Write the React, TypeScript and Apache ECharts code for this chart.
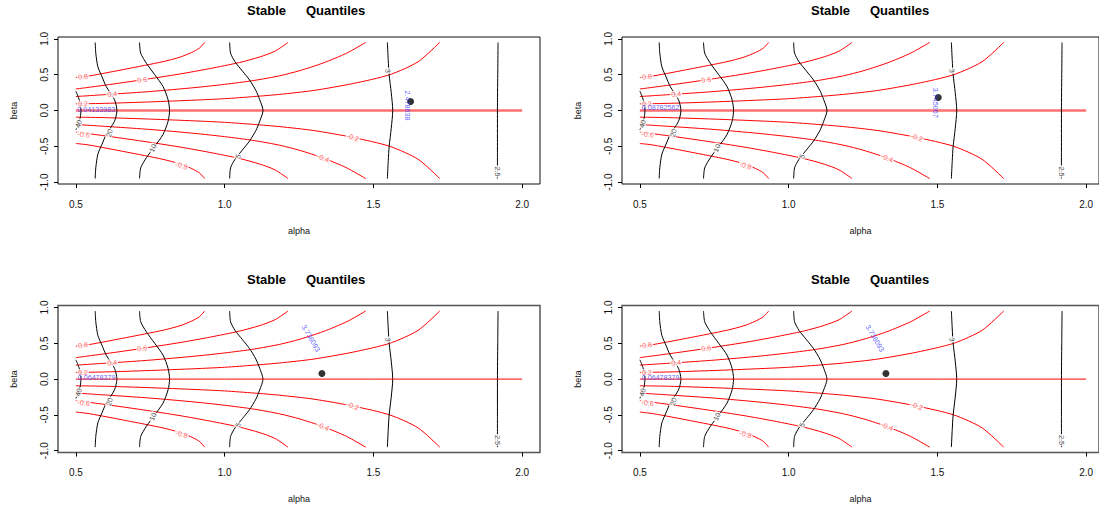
import React, { useEffect, useRef } from "react";
import * as echarts from "echarts";

const FONT = "'Liberation Sans', Arial, Helvetica, sans-serif";

// axes
const ALPHA_TICKS = [0.5, 1.0, 1.5, 2.0];
const BETA_TICKS = [-1.0, -0.5, 0.0, 0.5, 1.0];

// v_beta contours (red), points are [alpha, beta]
const VB_P08 = [[0.5, 0.46], [0.546, 0.483], [0.67, 0.58], [0.793, 0.682], [0.85, 0.745], [0.888, 0.808], [0.915, 0.87], [0.933, 0.95]];
const VB_P06 = [[0.5, 0.3], [0.6, 0.355], [0.723, 0.428], [0.85, 0.51], [0.95, 0.585], [1.05, 0.67], [1.12, 0.75], [1.17, 0.83], [1.213, 0.95]];
const VB_P04 = [[0.5, 0.195], [0.622, 0.228], [0.75, 0.265], [0.9, 0.32], [1.0, 0.365], [1.1, 0.42], [1.185, 0.485], [1.253, 0.557], [1.331, 0.663], [1.41, 0.8], [1.474, 0.95]];
const VB_P02 = [[0.5, 0.093], [0.6, 0.1], [0.75, 0.12], [0.9, 0.145], [1.0, 0.165], [1.1, 0.195], [1.185, 0.225], [1.3, 0.28], [1.431, 0.376], [1.555, 0.5], [1.65, 0.68], [1.723, 0.95]];
const VB_Z00 = [[0.5, 0.0], [1.0, 0.0], [1.5, 0.0], [2.0, 0.0]];
const VB_M02 = [[0.5, -0.093], [0.6, -0.1], [0.75, -0.12], [0.9, -0.145], [1.0, -0.165], [1.1, -0.195], [1.185, -0.225], [1.3, -0.28], [1.431, -0.376], [1.555, -0.5], [1.65, -0.68], [1.723, -0.95]];
const VB_M04 = [[0.5, -0.195], [0.622, -0.228], [0.75, -0.265], [0.9, -0.32], [1.0, -0.365], [1.1, -0.42], [1.185, -0.485], [1.253, -0.557], [1.331, -0.663], [1.41, -0.8], [1.474, -0.95]];
const VB_M06 = [[0.5, -0.3], [0.6, -0.355], [0.723, -0.428], [0.85, -0.51], [0.95, -0.585], [1.05, -0.67], [1.12, -0.75], [1.17, -0.83], [1.213, -0.95]];
const VB_M08 = [[0.5, -0.46], [0.546, -0.483], [0.67, -0.58], [0.793, -0.682], [0.85, -0.745], [0.888, -0.808], [0.915, -0.87], [0.933, -0.95]];

// v_alpha contours (black)
const VA_40 = [[0.5, 0.27], [0.509, 0.18], [0.515, 0.09], [0.517, 0.0], [0.515, -0.09], [0.509, -0.18], [0.5, -0.27]];
const VA_20 = [[0.565, 0.95], [0.567, 0.8], [0.574, 0.61], [0.588, 0.47], [0.602, 0.335], [0.63, 0.15], [0.638, 0.0], [0.63, -0.15], [0.602, -0.335], [0.588, -0.47], [0.574, -0.61], [0.567, -0.8], [0.565, -0.95]];
const VA_10 = [[0.714, 0.95], [0.718, 0.8], [0.737, 0.66], [0.765, 0.5], [0.793, 0.335], [0.81, 0.15], [0.815, 0.0], [0.81, -0.15], [0.793, -0.335], [0.765, -0.5], [0.737, -0.66], [0.718, -0.8], [0.714, -0.95]];
const VA_5 = [[1.017, 0.95], [1.02, 0.8], [1.035, 0.68], [1.06, 0.55], [1.084, 0.425], [1.105, 0.28], [1.118, 0.15], [1.129, 0.0], [1.118, -0.15], [1.105, -0.28], [1.084, -0.425], [1.06, -0.55], [1.035, -0.68], [1.02, -0.8], [1.017, -0.95]];
const VA_3 = [[1.547, 0.95], [1.55, 0.7], [1.553, 0.5], [1.56, 0.25], [1.565, 0.0], [1.56, -0.25], [1.553, -0.5], [1.55, -0.7], [1.547, -0.95]];
const VA_25 = [[1.919, 0.95], [1.918, 0.5], [1.917, 0.0], [1.917, -0.5], [1.917, -0.95]];

const RED_LINES = [VB_P08, VB_P06, VB_P04, VB_P02, VB_M02, VB_M04, VB_M06, VB_M08];
const BLACK_LINES = [VA_40, VA_20, VA_10, VA_5, VA_3, VA_25];

// contour labels: text, [alpha, beta] anchor, rotation (deg)
const RED_LABEL_TEXT = ["0.8", "0.6", "0.4", "0.2", "-0.2", "-0.4", "-0.6", "-0.8"];
const RED_LABEL_AT = [[0.524, 0.474], [0.723, 0.428], [0.622, 0.228], [0.524, 0.093], [1.431, -0.376], [1.331, -0.663], [0.526, -0.334], [0.855, -0.77]];
const RED_LABEL_ROT = [8, 8, 5, 3, -20, -22, -8, -15];
const BLACK_LABEL_TEXT = ["40", "20", "10", "5", "3", "2.5"];
const BLACK_LABEL_AT = [[0.509, -0.185], [0.613, -0.315], [0.759, -0.524], [1.045, -0.64], [1.549, 0.553], [1.916, -0.85]];
const BLACK_LABEL_ROT = [75, 73, 66, 64, -85, -90];

// observed points and their labels, one per panel
const POINTS = [[1.625, 0.125], [1.503, 0.181], [1.327, 0.078], [1.327, 0.078]];
const LEFT_TEXT = ["0.04133983", "0.08782562", "0.06478379", "0.06478379"];
const LEFT_AT = [[0.505, 0.02], [0.506, 0.038], [0.506, 0.028], [0.506, 0.028]];
const RIGHT_TEXT = ["2.478638", "3.745067", "3.736093", "3.736093"];
const RIGHT_AT = [[1.615, 0.07], [1.495, 0.107], [1.29, 0.57], [1.29, 0.57]];
const RIGHT_ROT = [-90, -90, -59.5, -59.5];

// right-hand panels are cut by the page edge
const PANELS = [
  { left: 58, top: 37, width: 482, xMax: 2.06, thick: true },
  { left: 622, top: 37, width: 477, xMax: 2.0432, thick: true },
  { left: 58, top: 305.6, width: 482, xMax: 2.06, thick: false },
  { left: 622, top: 305.6, width: 477, xMax: 2.0432, thick: false },
];

function buildOption() {
  const grid: any[] = [];
  const xAxis: any[] = [];
  const yAxis: any[] = [];
  const series: any[] = [];
  const title: any[] = [];

  PANELS.forEach((p, i) => {
    grid.push({
      left: p.left,
      top: p.top,
      width: p.width,
      height: 147,
      show: true,
      borderColor: i < 2 ? "#111" : "#555",
      borderWidth: i < 2 ? 1 : 1.5,
      backgroundColor: "transparent",
    });
    xAxis.push({
      gridIndex: i,
      type: "value",
      min: 0.44,
      max: p.xMax,
      axisLine: { show: false, onZero: false },
      splitLine: { show: false },
      axisTick: { show: true, customValues: ALPHA_TICKS, length: 4, lineStyle: { color: "#000" } },
      axisLabel: {
        customValues: ALPHA_TICKS,
        formatter: (v: number) => v.toFixed(1),
        margin: 15,
        fontSize: 10,
        color: "#111",
        fontFamily: FONT,
      },
      name: "alpha",
      nameLocation: "middle",
      nameGap: 42,
      nameTextStyle: { fontSize: 9, color: "#111", fontFamily: FONT },
    });
    yAxis.push({
      gridIndex: i,
      type: "value",
      min: -1.026,
      max: 1.026,
      axisLine: { show: false, onZero: false },
      splitLine: { show: false },
      axisTick: { show: true, customValues: BETA_TICKS, length: 4, lineStyle: { color: "#000" } },
      axisLabel: {
        customValues: BETA_TICKS,
        formatter: (v: number) => v.toFixed(1),
        rotate: 90,
        margin: 9,
        fontSize: 10,
        color: "#111",
        fontFamily: FONT,
      },
      name: "beta",
      nameLocation: "middle",
      nameGap: 40,
      nameRotate: 90,
      nameTextStyle: { fontSize: 9, color: "#111", fontFamily: FONT },
    });

    const base = { xAxisIndex: i, yAxisIndex: i, silent: true, animation: false, emphasis: { disabled: true } };
    RED_LINES.forEach((d) => {
      series.push({ ...base, type: "line", data: d, showSymbol: false, symbol: "none", smooth: 0.25, itemStyle: { color: "#ff0000" }, lineStyle: { color: "#ff0000", width: 1 }, z: 2 });
    });
    BLACK_LINES.forEach((d) => {
      series.push({ ...base, type: "line", data: d, showSymbol: false, symbol: "none", smooth: 0.25, itemStyle: { color: "#000" }, lineStyle: { color: "#000", width: 1 }, z: 3 });
    });
    const zeroColor = p.thick ? "#ff7070" : "#ff0000";
    series.push({
      ...base,
      type: "line",
      data: VB_Z00,
      showSymbol: false,
      symbol: "none",
      itemStyle: { color: zeroColor },
      lineStyle: { color: zeroColor, width: p.thick ? 2.5 : 1 },
      z: p.thick ? 2 : 4,
    });
    // contour labels
    series.push({
      ...base,
      type: "scatter",
      symbolSize: 1,
      itemStyle: { color: "rgba(0,0,0,0)" },
      z: 5,
      data: RED_LABEL_AT.map((v, k) => ({
        value: v,
        label: { formatter: RED_LABEL_TEXT[k], rotate: RED_LABEL_ROT[k], color: "#ff4040" },
      })).concat(
        BLACK_LABEL_AT.map((v, k) => ({
          value: v,
          label: { formatter: BLACK_LABEL_TEXT[k], rotate: BLACK_LABEL_ROT[k], color: "#222" },
        }))
      ),
      label: {
        show: true,
        position: "inside",
        fontSize: 7.2,
        fontFamily: FONT,
        backgroundColor: "#fff",
        padding: [0, 1],
      },
    });
    // observed point
    series.push({
      ...base,
      type: "scatter",
      symbol: "circle",
      symbolSize: 7,
      itemStyle: { color: "#000" },
      z: 6,
      data: [POINTS[i]],
    });
    // blue labels
    series.push({
      ...base,
      type: "scatter",
      symbolSize: 1,
      itemStyle: { color: "rgba(0,0,0,0)" },
      z: 7,
      data: [
        { value: LEFT_AT[i], label: { formatter: LEFT_TEXT[i], align: "left", rotate: 0 } },
        { value: RIGHT_AT[i], label: { formatter: RIGHT_TEXT[i], align: "center", rotate: RIGHT_ROT[i] } },
      ],
      label: { show: true, position: "inside", fontSize: 7.2, fontFamily: FONT, color: "#3a3aff" },
    });

    const dx = p.left - 58;
    const ty = p.top === 37 ? 4 : 273;
    title.push({ text: "Stable", left: 247 + dx, top: ty, padding: 0, textStyle: { fontSize: 13, fontWeight: "bold", color: "#000", fontFamily: FONT } });
    title.push({ text: "Quantiles", left: 306 + dx, top: ty, padding: 0, textStyle: { fontSize: 13, fontWeight: "bold", color: "#000", fontFamily: FONT } });
  });

  return { animation: false, backgroundColor: "#fff", title, grid, xAxis, yAxis, series };
}

export default function App() {
  const ref = useRef<HTMLDivElement>(null);
  useEffect(() => {
    const chart = echarts.init(ref.current as HTMLDivElement, null, { renderer: "svg" });
    chart.setOption(buildOption() as any);
    return () => chart.dispose();
  }, []);
  return (
    <div
      ref={ref}
      style={{ position: "fixed", left: 0, top: 0, width: 1099, height: 510, background: "#fff" }}
    />
  );
}
